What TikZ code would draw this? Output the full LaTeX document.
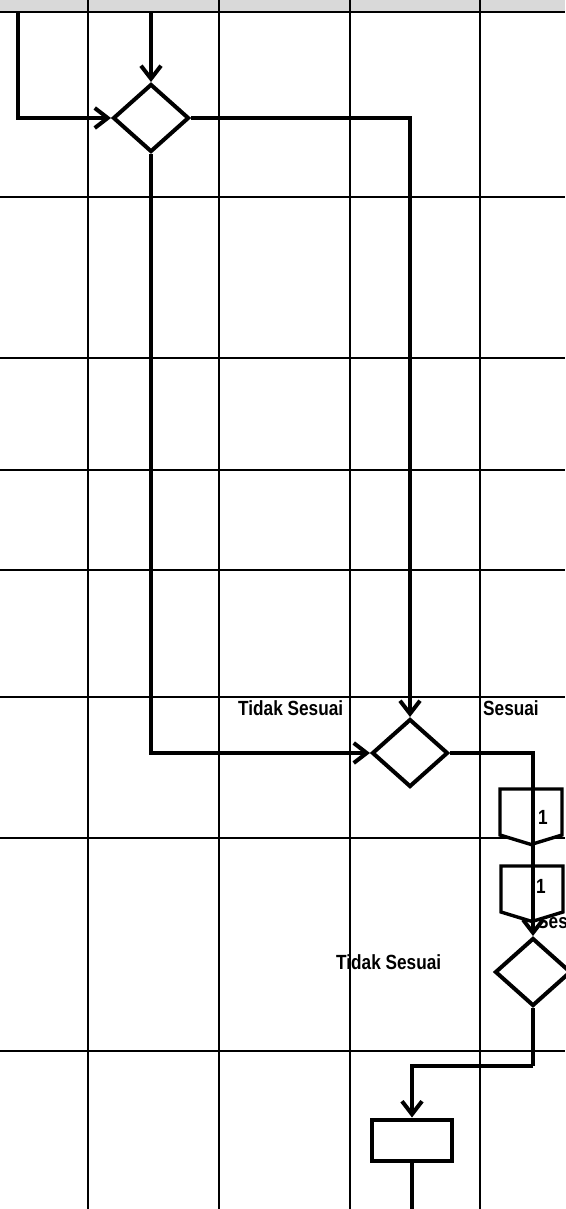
\documentclass[tikz,border=0pt]{standalone}
\usepackage{fontspec}
\newfontfamily\lblfont[FakeStretch=0.84]{Liberation Sans}
\usetikzlibrary{positioning,arrows.meta,shapes.geometric,shapes.symbols}

\begin{document}
\begin{tikzpicture}[
  x=1pt, y=-1pt,
  grid/.style={draw=black, line width=2.8pt},
  flow/.style={draw=black, line width=4pt, line join=miter},
  flowarr/.style={flow, -{Straight Barb[length=13pt, width=20pt]}},
  decision/.style={diamond, draw=black, line width=4pt, fill=white, inner sep=0pt, minimum width=76pt, minimum height=68pt},
  process/.style={rectangle, draw=black, line width=4pt, fill=white, minimum width=80pt, minimum height=41pt},
  offpage/.style={signal, signal to=south, signal pointer angle=146, draw=black, line width=3.4pt, fill=white, inner sep=0pt, minimum width=62pt, minimum height=46pt},
  lbl/.style={font=\lblfont\bfseries\fontsize{20.5}{22}\selectfont, inner sep=0pt}
]
\useasboundingbox (0,0) rectangle (565,1209);

% header band
\fill[gray!30] (0,0) rectangle (565,12);

% labels
\node[lbl, anchor=west] (tdk1) at (238,708) {Tidak Sesuai};
\node[lbl, anchor=west] (ssi1) at (483,708) {Sesuai};
\node[lbl, anchor=west] (tdk2) at (336,962) {Tidak Sesuai};
\node[lbl, anchor=west] (ssi2) at (537,921) {Sesuai};

% swimlane grid
\foreach \gx in {88,219,350,480}
  \draw[grid] (\gx,0) -- (\gx,1209);
\foreach \gy in {12,197,358,470,570,697,838,1051}
  \draw[grid] (0,\gy) -- (565,\gy);

% shapes
\node[decision] (dec1) at (151,118) {};
\node[decision] (dec2) at (410,753) {};
\node[decision] (dec3) at (533,972) {};
\node[process] (box1) at (412,1140) {};
\node[offpage] (con1) at (531,812) {};
\node[offpage] (con2) at (532,889) {};
\node[lbl] (num1) at (543,817) {1};
\node[lbl] (num2) at (541,886) {1};

\coordinate (in1) at (18,12);
\coordinate (in2) at (151,12);
\coordinate (turn) at (533,1066);
\coordinate (out) at (412,1209);

% flow
\draw[flowarr] (in1) |- (dec1.west);
\draw[flowarr] (in2) -- (dec1.north);
\draw[flowarr] (dec1.east) -| (dec2.north);
\draw[flowarr] (dec1.south) |- (dec2.west);
\draw[flowarr] (dec2.east) -| (dec3.north);
\draw[flow] (dec3.south) -- (turn);
\draw[flowarr] (turn) -| (box1.north);
\draw[flow] (box1.south) -- (out);

\end{tikzpicture}
\end{document}
